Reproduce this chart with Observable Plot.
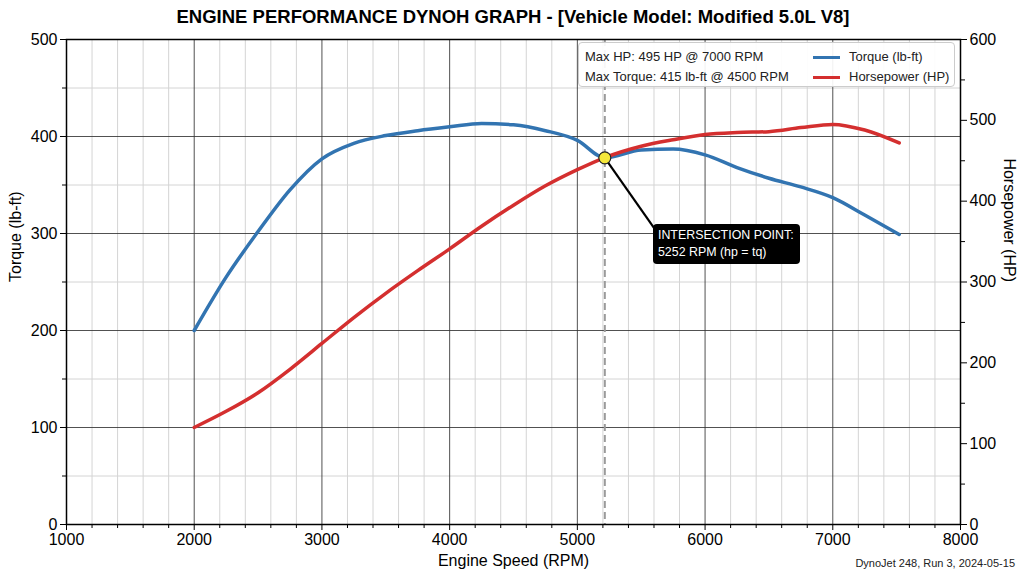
<!DOCTYPE html>
<html><head><meta charset="utf-8">
<script src="https://cdn.jsdelivr.net/npm/d3@7"></script>
<script src="https://cdn.jsdelivr.net/npm/@observablehq/plot@0.6"></script>
<style>
body{margin:0;background:#fff;font-family:"Liberation Sans",Arial,sans-serif;}
#wrap{position:relative;width:1024px;height:572px;overflow:hidden;}
#title{position:absolute;top:6px;left:0;width:1026px;text-align:center;font-weight:bold;font-size:18.5px;color:#000;}
#caption{position:absolute;right:9px;top:557px;font-size:11px;color:#222;}
#legend{position:absolute;box-sizing:border-box;left:578px;top:42px;width:377px;height:45px;border:1px solid #ccc;border-radius:4px;background:rgba(255,255,255,0.92);font-size:13px;color:#222;}
#legend .row{position:absolute;left:6px;}
#legend .sw{position:absolute;left:234px;width:27px;height:3px;}
#legend .lab{position:absolute;left:270px;}
#annot{position:absolute;background:#000;color:#fff;font-size:12.4px;line-height:17px;padding:3px 6px 3px 5px;border-radius:4px;white-space:nowrap;}
</style></head><body><div id="wrap"><div id="title"></div></div>
<script>
// ---- data ----
const rpm        = [2000, 2250, 2500, 2750, 3000, 3250, 3500, 3750, 4000, 4250, 4500, 4750, 5000, 5215, 5500, 5750, 6000, 6250, 6500, 6750, 7000, 7250, 7520];
const torque     = [200, 255, 302, 345, 377, 393, 401, 406, 410, 413.5, 412, 406, 396, 378, 386, 387, 381, 368, 357, 348, 337, 319, 299];
const horsepower = [120, 140, 163, 192, 224, 256, 286, 314, 341, 369, 395, 419, 439, 454, 468, 476, 482.5, 485, 486, 491, 495, 488, 472];
const xMajorTicks = [1000, 2000, 3000, 4000, 5000, 6000, 7000, 8000];
const xMinorTicks = d3.range(1000, 8001, 200).filter(v => v % 1000 !== 0);
const tqMajorTicks = [0, 100, 200, 300, 400, 500];
const tqMinorTicks = [50, 150, 250, 350, 450];
const hpMajorTicks = [0, 100, 200, 300, 400, 500, 600];
const hpMinorTicks = [50, 150, 250, 350, 450, 550];
const seriesNames = ["Torque (lb-ft)", "Horsepower (HP)"];
const statLines = ["Max HP: 495 HP @ 7000 RPM", "Max Torque: 415 lb-ft @ 4500 RPM"];
const intersectRpm = 5215, intersectTq = 378;
const annotLines = ["INTERSECTION POINT:", "5252 RPM (hp = tq)"];
const annotAt = {rpm: 5596, tq: 309};
const titleText = "ENGINE PERFORMANCE DYNOH GRAPH - [Vehicle Model: Modified 5.0L V8]";
const captionText = "DynoJet 248, Run 3, 2024-05-15";

const hpRatio = 600 / 500; // right axis max / left axis max
const BLUE = "#3274b1", RED = "#d42f2f";

const tqData = rpm.map((r, i) => ({rpm: r, v: torque[i]}));
const hpData = rpm.map((r, i) => ({rpm: r, v: horsepower[i] / hpRatio}));

const chart = Plot.plot({
  width: 1024, height: 572,
  marginTop: 39, marginBottom: 48, marginLeft: 66, marginRight: 64,
  style: {fontSize: "16px", fontFamily: "'Liberation Sans', Arial, sans-serif", color: "#000", background: "transparent"},
  x: {domain: [1000, 8000]},
  y: {domain: [0, 500]},
  marks: [
    Plot.gridX(xMinorTicks, {stroke: "#d4d4d4", strokeOpacity: 1}),
    Plot.gridY(tqMinorTicks, {stroke: "#d4d4d4", strokeOpacity: 1}),
    Plot.gridX(xMajorTicks, {stroke: "#333", strokeOpacity: 0.85}),
    Plot.gridY(tqMajorTicks, {stroke: "#333", strokeOpacity: 0.85}),
    Plot.ruleX([intersectRpm], {stroke: "#9a9a9a", strokeWidth: 2, strokeDasharray: "7,4"}),
    Plot.line(tqData, {x: "rpm", y: "v", stroke: BLUE, strokeWidth: 3.5, curve: "monotone-x"}),
    Plot.line(hpData, {x: "rpm", y: "v", stroke: RED, strokeWidth: 3.5, curve: "monotone-x"}),
    Plot.link([0], {x1: () => intersectRpm, y1: () => intersectTq, x2: () => annotAt.rpm + 30, y2: () => annotAt.tq - 8, stroke: "#000", strokeWidth: 2.2}),
    Plot.dot([0], {x: () => intersectRpm, y: () => intersectTq, r: 6, fill: "#f5e83a", stroke: "#222", strokeWidth: 1.2}),
    Plot.frame({stroke: "#000", strokeWidth: 1.5}),
    Plot.axisX(xMajorTicks, {tickSize: 6, tickPadding: 3, tickFormat: d => String(d), label: null}),
    Plot.axisX(xMinorTicks, {tickSize: 4, tickFormat: () => "", label: null}),
    Plot.axisY(tqMajorTicks, {tickSize: 6, tickPadding: 3, tickFormat: d => String(d), label: null}),
    Plot.axisY(tqMinorTicks, {tickSize: 4, tickFormat: () => "", label: null}),
    Plot.axisY(hpMajorTicks.map(h => h / hpRatio), {anchor: "right", tickSize: 6, tickPadding: 3, tickFormat: d => String(Math.round(d * hpRatio)), label: null}),
    Plot.axisY(hpMinorTicks.map(h => h / hpRatio), {anchor: "right", tickSize: 4, tickFormat: () => "", label: null}),
    Plot.text(["Torque (lb-ft)"], {frameAnchor: "left", rotate: -90, dx: -51, fontSize: 16}),
    Plot.text(["Horsepower (HP)"], {frameAnchor: "right", rotate: 90, dx: 49, fontSize: 16}),
    Plot.text(["Engine Speed (RPM)"], {frameAnchor: "bottom", dy: 41, fontSize: 16})
  ]
});

const wrap = document.getElementById("wrap");
document.getElementById("title").textContent = titleText;
wrap.appendChild(chart);
chart.style.position = "absolute"; chart.style.left = "0"; chart.style.top = "0";

const xs = chart.scale("x"), ys = chart.scale("y");

// legend
const leg = document.createElement("div"); leg.id = "legend";
statLines.forEach((t, i) => {
  const d = document.createElement("div"); d.className = "row"; d.style.top = (6 + i * 20) + "px"; d.textContent = t; leg.appendChild(d);
});
[BLUE, RED].forEach((c, i) => {
  const s = document.createElement("div"); s.className = "sw"; s.style.background = c; s.style.top = (13 + i * 20) + "px"; leg.appendChild(s);
  const l = document.createElement("div"); l.className = "lab"; l.style.top = (6 + i * 20) + "px"; l.textContent = seriesNames[i]; leg.appendChild(l);
});
wrap.appendChild(leg);

// annotation box
const an = document.createElement("div"); an.id = "annot";
an.innerHTML = annotLines.map(t => `<div>${t}</div>`).join("");
an.style.left = xs.apply(annotAt.rpm) + "px";
an.style.top = ys.apply(annotAt.tq) + "px";
wrap.appendChild(an);

// caption
const cap = document.createElement("div"); cap.id = "caption"; cap.textContent = captionText;
wrap.appendChild(cap);
</script>
</body></html>
